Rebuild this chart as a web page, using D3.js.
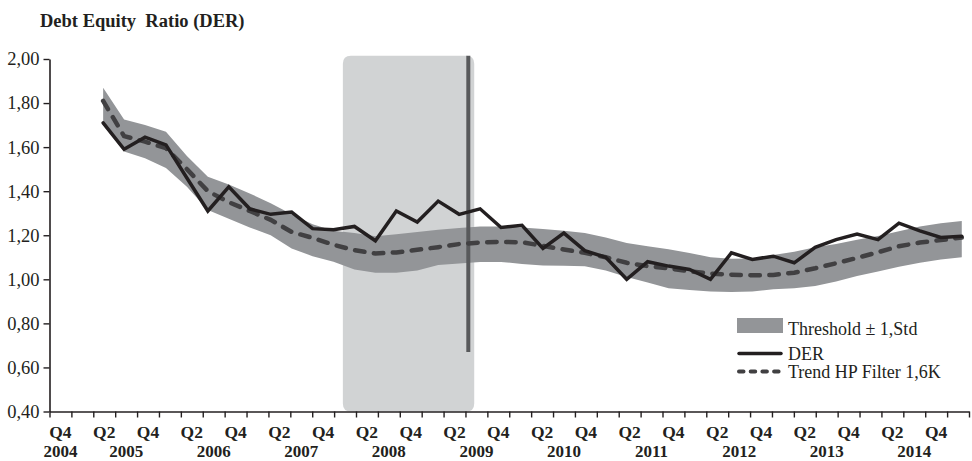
<!DOCTYPE html>
<html>
<head>
<meta charset="utf-8">
<script src="https://cdn.jsdelivr.net/npm/d3@7"></script>
<style>
  html, body { margin: 0; padding: 0; background: #ffffff; }
  svg { display: block; font-family: "Liberation Serif", "Times New Roman", serif; }
</style>
</head>
<body>
<svg id="chart" width="972" height="461"></svg>
<script>
// Quarterly periods on the category axis
const periods = [
  "2004-Q4",
  "2005-Q1","2005-Q2","2005-Q3","2005-Q4",
  "2006-Q1","2006-Q2","2006-Q3","2006-Q4",
  "2007-Q1","2007-Q2","2007-Q3","2007-Q4",
  "2008-Q1","2008-Q2","2008-Q3","2008-Q4",
  "2009-Q1","2009-Q2","2009-Q3","2009-Q4",
  "2010-Q1","2010-Q2","2010-Q3","2010-Q4",
  "2011-Q1","2011-Q2","2011-Q3","2011-Q4",
  "2012-Q1","2012-Q2","2012-Q3","2012-Q4",
  "2013-Q1","2013-Q2","2013-Q3","2013-Q4",
  "2014-Q1","2014-Q2","2014-Q3","2014-Q4",
  "2015-Q1"
];

// Debt equity ratio observations
const der = [1.71, 1.59, 1.645, 1.61, 1.46, 1.31, 1.42, 1.32, 1.295, 1.305,
             1.23, 1.225, 1.24, 1.175, 1.31, 1.26, 1.355, 1.295, 1.32, 1.235,
             1.245, 1.14, 1.21, 1.13, 1.10, 1.00, 1.08, 1.06, 1.045, 1.00,
             1.12, 1.09, 1.105, 1.075, 1.145, 1.18, 1.205, 1.18, 1.255, 1.22,
             1.19, 1.195];

// Hodrick-Prescott trend (lambda 1600)
const trend = [1.81, 1.65, 1.625, 1.595, 1.50, 1.40, 1.35, 1.31, 1.27, 1.215,
               1.188, 1.157, 1.132, 1.117, 1.122, 1.134, 1.146, 1.16, 1.167, 1.17,
               1.168, 1.152, 1.135, 1.12, 1.10, 1.075, 1.06, 1.05, 1.036, 1.026,
               1.021, 1.018, 1.02, 1.03, 1.05, 1.073, 1.097, 1.123, 1.15, 1.167,
               1.178, 1.19];

// Threshold band: trend +/- one standard deviation
const upper = [1.87, 1.725, 1.70, 1.67, 1.56, 1.465, 1.43, 1.39, 1.345, 1.295,
               1.25, 1.22, 1.21, 1.195, 1.205, 1.215, 1.225, 1.233, 1.24, 1.24,
               1.235, 1.228, 1.22, 1.21, 1.19, 1.165, 1.15, 1.137, 1.12, 1.10,
               1.093, 1.095, 1.11, 1.125, 1.145, 1.16, 1.18, 1.197, 1.218, 1.24,
               1.255, 1.265];
const lower = [1.70, 1.58, 1.55, 1.505, 1.42, 1.315, 1.275, 1.235, 1.20, 1.14,
               1.105, 1.08, 1.045, 1.03, 1.03, 1.04, 1.065, 1.072, 1.079, 1.079,
               1.07, 1.063, 1.061, 1.059, 1.04, 1.01, 0.985, 0.96, 0.951, 0.945,
               0.942, 0.945, 0.955, 0.96, 0.97, 0.99, 1.015, 1.035, 1.057, 1.075,
               1.09, 1.10];

// Crisis period shading (in quarter-axis units) and the marker line inside it
const crisisSpan = [13.4, 19.4];
const crisisMarker = [19.13];
const crisisTop = [2.015];
const markerRange = [2.015, 0.67];

const yTicks = [0.4, 0.6, 0.8, 1.0, 1.2, 1.4, 1.6, 1.8, 2.0];
const shownQuarters = ["Q2", "Q4"];
const legendLabels = ["Threshold \u00b1 1,Std", "DER", "Trend HP Filter 1,6K"];
const title = "Debt Equity  Ratio (DER)";

// ---- layout ----
const plot = { left: 49.5, right: 969, top: 59, bottom: 411.5 };
const dataSpan = [2.45, 41.67];   // first and last observation on the quarter axis

const svg = d3.select("#chart");

const xq = d3.scaleLinear().domain([0, periods.length]).range([plot.left, plot.right]);
const xBand = d3.scaleBand().domain(periods).range([plot.left, plot.right]).padding(0);
const xData = d3.scalePoint().domain(d3.range(der.length)).range([xq(dataSpan[0]), xq(dataSpan[1])]);
const y = d3.scaleLinear().domain([0.4, 2.0]).range([plot.bottom, plot.top]);

const comma = d3.formatLocale({ decimal: ",", thousands: ".", grouping: [3], currency: ["", ""] }).format(".2f");

// crisis shading (rounded top corners, square bottom resting on the axis)
const cx0 = xq(crisisSpan[0]), cx1 = xq(crisisSpan[1]);
const cy0 = y(crisisTop[0]), cy1 = y(0.4), r = 8;
svg.append("path")
  .attr("d", `M${cx0},${cy1} L${cx0},${cy0 + r} Q${cx0},${cy0} ${cx0 + r},${cy0} L${cx1 - r},${cy0} Q${cx1},${cy0} ${cx1},${cy0 + r} L${cx1},${cy1 - r} Q${cx1},${cy1} ${cx1 - r},${cy1} L${cx0 + r},${cy1} Q${cx0},${cy1} ${cx0},${cy1 - r} Z`)
  .attr("fill", "#d1d3d4");

// threshold band
const area = d3.area()
  .x((d, i) => xData(i))
  .y0((d, i) => y(lower[i]))
  .y1((d, i) => y(upper[i]));
svg.append("path")
  .datum(upper)
  .attr("d", area)
  .attr("fill", "#939598");

// marker line
svg.append("line")
  .attr("x1", xq(crisisMarker[0])).attr("x2", xq(crisisMarker[0]))
  .attr("y1", y(markerRange[0])).attr("y2", y(markerRange[1]))
  .attr("stroke", "#58595b").attr("stroke-width", 4);

// trend line
const line = d3.line().x((d, i) => xData(i)).y(d => y(d));
svg.append("path")
  .datum(trend)
  .attr("d", line)
  .attr("fill", "none")
  .attr("stroke", "#414042")
  .attr("stroke-width", 4.5)
  .attr("stroke-linecap", "round")
  .attr("stroke-dasharray", "9.5,9.5");

// DER line
svg.append("path")
  .datum(der)
  .attr("d", line)
  .attr("fill", "none")
  .attr("stroke", "#231f20")
  .attr("stroke-width", 3.5)
  .attr("stroke-linejoin", "miter")
  .attr("stroke-linecap", "round");

// y axis
const yAxis = svg.append("g")
  .attr("transform", `translate(${plot.left},0)`)
  .call(d3.axisLeft(y).tickValues(yTicks).tickFormat(comma).tickSize(6).tickSizeOuter(0).tickPadding(4));
yAxis.attr("font-family", null).attr("font-size", null);
yAxis.select(".domain").attr("stroke", "#231f20").attr("stroke-width", 1.6);
yAxis.selectAll(".tick line").attr("stroke", "#231f20").attr("stroke-width", 1.4);
yAxis.selectAll(".tick text").attr("font-size", 18.5).attr("fill", "#231f20");

// x axis: ticks between quarters
const xAxis = svg.append("g")
  .attr("transform", `translate(0,${plot.bottom})`)
  .call(d3.axisBottom(xq).tickValues(d3.range(0, periods.length + 1)).tickFormat("").tickSize(6).tickSizeOuter(0));
xAxis.select(".domain").attr("stroke", "#231f20").attr("stroke-width", 1.6);
xAxis.selectAll(".tick line").attr("stroke", "#231f20").attr("stroke-width", 1.4);

// quarter labels
const quarterLabel = p => p.split("-")[1];
const yearLabel = p => p.split("-")[0];
svg.append("g")
  .selectAll("text")
  .data(periods.filter((p, i) => i === 0 || shownQuarters.includes(quarterLabel(p))))
  .join("text")
  .attr("x", p => xBand(p) + xBand.bandwidth() / 2)
  .attr("y", 437.5)
  .attr("text-anchor", "middle")
  .attr("font-weight", "bold")
  .attr("font-size", 17.5)
  .attr("fill", "#231f20")
  .text(quarterLabel);

// year labels: first period, then under each third quarter
svg.append("g")
  .selectAll("text")
  .data(periods.filter((p, i) => i === 0 || quarterLabel(p) === "Q3"))
  .join("text")
  .attr("x", p => xBand(p) + xBand.bandwidth() / 2)
  .attr("y", 456.5)
  .attr("text-anchor", "middle")
  .attr("font-weight", "bold")
  .attr("font-size", 17)
  .attr("fill", "#231f20")
  .text(yearLabel);

// title
svg.append("text")
  .attr("x", 40).attr("y", 26.5)
  .attr("font-weight", "bold")
  .attr("font-size", 18.5)
  .attr("fill", "#231f20")
  .style("white-space", "pre")
  .text(title);

// legend
const lg = svg.append("g").attr("transform", "translate(737,0)");
lg.append("rect").attr("x", 0).attr("y", 318).attr("width", 46).attr("height", 15).attr("fill", "#939598");
lg.append("line").attr("x1", 2).attr("x2", 44).attr("y1", 353.5).attr("y2", 353.5)
  .attr("stroke", "#231f20").attr("stroke-width", 3.5).attr("stroke-linecap", "round");
lg.append("line").attr("x1", 2).attr("x2", 46).attr("y1", 371.5).attr("y2", 371.5)
  .attr("stroke", "#414042").attr("stroke-width", 4).attr("stroke-linecap", "round")
  .attr("stroke-dasharray", "4.5,7.2");
lg.selectAll("text.lab")
  .data(legendLabels)
  .join("text")
  .attr("class", "lab")
  .attr("x", 51)
  .attr("y", (d, i) => [335, 359.5, 378][i])
  .attr("font-size", 18)
  .attr("fill", "#231f20")
  .text(d => d);
</script>
</body>
</html>
